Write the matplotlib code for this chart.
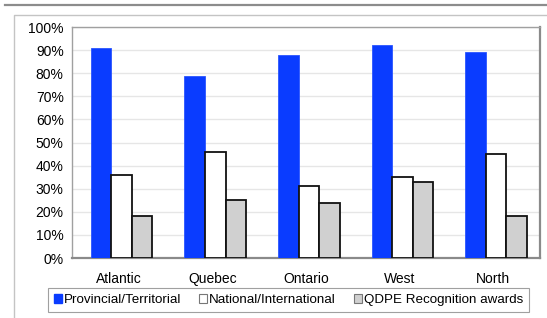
import matplotlib.pyplot as plt
import numpy as np
from matplotlib.lines import Line2D
from matplotlib.patches import Rectangle

regions = ["Atlantic", "Quebec", "Ontario", "West", "North"]
provincial = [91, 79, 88, 92, 89]
national = [36, 46, 31, 35, 45]
qdpe = [18, 25, 24, 33, 18]
series_names = ["Provincial/Territorial", "National/International", "QDPE Recognition awards"]

plt.rcParams["font.family"] = ["Liberation Sans", "DejaVu Sans"]

fig = plt.figure(figsize=(5.47, 3.18), dpi=100)
ax = fig.add_axes([72 / 547, 1 - 258 / 318, 468 / 547, 231 / 318])

# page decorations: top rule and outer frame
fig.add_artist(Line2D([5 / 547, 1], [1 - 5 / 318] * 2, color="#8c8c8c", lw=1.6,
                      transform=fig.transFigure))
fig.add_artist(Line2D([14 / 547, 14 / 547, 1], [0, 1 - 15 / 318, 1 - 15 / 318],
                      color="#c4c4c4", lw=1.0, transform=fig.transFigure))

x = np.arange(len(regions))
w = 0.22
ax.bar(x - w + 0.03, provincial, w, color="#0a3cff", edgecolor="#2a55ff", lw=0.6,
       label=series_names[0], zorder=3)
ax.bar(x + 0.03, national, w, color="white", edgecolor="#111111", lw=1.3,
       label=series_names[1], zorder=3)
ax.bar(x + w + 0.03, qdpe, w, color="#d0d0d0", edgecolor="#111111", lw=1.3,
       label=series_names[2], zorder=3)

ax.set_xlim(-0.5, len(regions) - 0.5)
ax.set_ylim(0, 100)
ax.set_yticks(range(0, 101, 10))
ax.set_yticklabels([f"{v}%" for v in range(0, 101, 10)], fontsize=10)
ax.set_xticks(x)
ax.set_xticklabels(regions, fontsize=10)
ax.tick_params(length=0, pad=6)
ax.tick_params(axis="x", pad=10)
ax.yaxis.grid(True, color="#e6e6e6", lw=1.0, zorder=0)
ax.set_axisbelow(True)
for side in ["top", "left"]:
    ax.spines[side].set_color("#a0a0a0")
    ax.spines[side].set_linewidth(1.0)
for side in ["right", "bottom"]:
    ax.spines[side].set_color("#8a8a8a")
    ax.spines[side].set_linewidth(1.6)

handles = [
    Rectangle((0, 0), 1, 1, facecolor="#0a3cff", edgecolor="#0a3cff"),
    Rectangle((0, 0), 1, 1, facecolor="white", edgecolor="#777777", lw=0.8),
    Rectangle((0, 0), 1, 1, facecolor="#d0d0d0", edgecolor="#777777", lw=0.8),
]
leg = fig.legend(handles, series_names, loc="center", bbox_to_anchor=(288.5 / 547, 1 - 300 / 318),
                 ncol=3, fontsize=9.6, frameon=True, fancybox=False, edgecolor="#888888",
                 handlelength=0.6, handleheight=0.6, handletextpad=0.15, columnspacing=1.35,
                 borderpad=0.45, borderaxespad=0)
leg.get_frame().set_linewidth(0.8)

fig.savefig("out.png", dpi=100)
